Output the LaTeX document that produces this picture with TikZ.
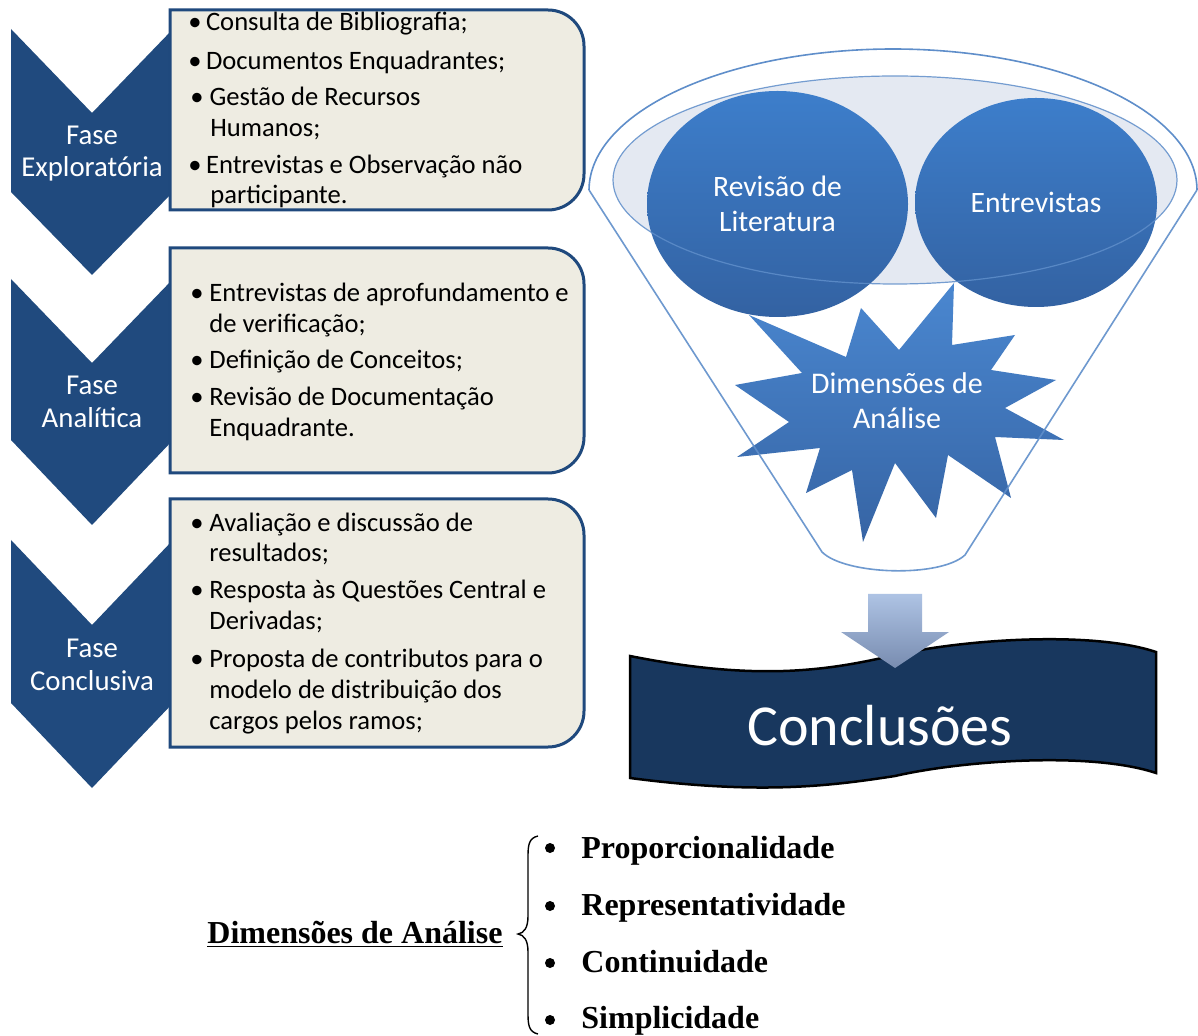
\documentclass[tikz,border=0pt]{standalone}
\usepackage{fontspec}
\setmainfont{Carlito}
\newfontfamily\timesfont{Liberation Serif}
\usetikzlibrary{shapes.geometric}
\definecolor{chev}{RGB}{32,74,126}
\definecolor{boxfill}{RGB}{238,236,226}
\definecolor{boxline}{RGB}{31,73,125}
\definecolor{circtop}{RGB}{61,126,203}
\definecolor{circbot}{RGB}{51,98,162}
\definecolor{startop}{RGB}{74,135,208}
\definecolor{starbot}{RGB}{54,100,164}
\definecolor{funnel}{RGB}{95,142,202}
\definecolor{innerfill}{RGB}{228,233,242}
\definecolor{arrtop}{RGB}{174,195,228}
\definecolor{arrbot}{RGB}{120,140,176}
\definecolor{banner}{RGB}{24,55,94}
\begin{document}
\begin{tikzpicture}[x=0.5pt,y=-0.5pt,
  chevron/.style={fill=chev},
  phasebox/.style={fill=boxfill, draw=boxline, line width=1.5pt},
  ln/.style={anchor=base west, inner sep=0pt, font=\fontsize{13.3}{15}\selectfont, text=black},
  chevlbl/.style={anchor=base, inner sep=0pt, text=white, font=\fontsize{14.4}{16}\selectfont},
  bubble/.style={ellipse, inner sep=0pt, top color=circtop, bottom color=circbot, text=white, align=center, font=\fontsize{14.8}{17.5}\selectfont},
  funnelline/.style={draw=funnel, line width=0.8pt},
  dim/.style={anchor=base west, inner sep=0pt, font=\timesfont\bfseries\fontsize{16}{19}\selectfont},
  dimbul/.style={circle, fill=black, inner sep=0pt, minimum size=5pt}]
\useasboundingbox (0,0) rectangle (1198,1036);
\fill[white] (0,0) rectangle (1198,1036);

% chevrons
\fill[chevron] (11,29) -- (92,113) -- (173,29) -- (173,192) -- (92,275) -- (11,192) -- cycle;
\fill[chevron] (11,279) -- (92,363) -- (173,279) -- (173,440) -- (92,525) -- (11,440) -- cycle;
\fill[chevron] (11,540) -- (92,625) -- (173,540) -- (173,703) -- (92,788) -- (11,703) -- cycle;
\node[chevlbl] (c1a) at (92,145) {Fase};
\node[chevlbl] (c1b) at (92,177) {Exploratória};
\node[chevlbl] (c2a) at (92,395) {Fase};
\node[chevlbl] (c2b) at (92,428) {Analítica};
\node[chevlbl] (c3a) at (92,657) {Fase};
\node[chevlbl] (c3b) at (92,690) {Conclusiva};

% boxes
\draw[phasebox] (170,10) -- (548,10) .. controls (567.9,10) and (584,26.1) .. (584,46) -- (584,174) .. controls (584,193.9) and (567.9,210) .. (548,210) -- (170,210) -- cycle;
\draw[phasebox] (170,248) -- (548,248) .. controls (567.9,248) and (584,264.1) .. (584,284) -- (584,437) .. controls (584,456.9) and (567.9,473) .. (548,473) -- (170,473) -- cycle;
\draw[phasebox] (170,499) -- (548,499) .. controls (567.9,499) and (584,515.1) .. (584,535) -- (584,711) .. controls (584,730.9) and (567.9,747) .. (548,747) -- (170,747) -- cycle;

% box 1 text
\node[ln] (t11) at (188,31) {\textbullet\,Consulta de Bibliografia;};
\node[ln] (t12) at (188,70) {\textbullet\,Documentos Enquadrantes;};
\node[ln] (t13) at (190,106) {\textbullet\ Gestão de Recursos};
\node[ln] (t14) at (210,137) {Humanos;};
\node[ln] (t15) at (188,174) {\textbullet\,Entrevistas e Observação não};
\node[ln] (t16) at (210,204) {participante.};

% box 2 text
\node[ln] (b21) at (190,302) {\textbullet};
\node[ln] (t21) at (209,302) {Entrevistas de aprofundamento e};
\node[ln] (t22) at (209,333) {de verificação;};
\node[ln] (b23) at (190,369) {\textbullet};
\node[ln] (t23) at (209,369) {Definição de Conceitos;};
\node[ln] (b24) at (190,406) {\textbullet};
\node[ln] (t24) at (209,406) {Revisão de Documentação};
\node[ln] (t25) at (209,437) {Enquadrante.};

% box 3 text
\node[ln] (b31) at (190,532) {\textbullet};
\node[ln] (t31) at (209,532) {Avaliação e discussão de};
\node[ln] (t32) at (209,562) {resultados;};
\node[ln] (b33) at (190,599) {\textbullet};
\node[ln] (t33) at (209,599) {Resposta às Questões Central e};
\node[ln] (t34) at (209,630) {Derivadas;};
\node[ln] (b35) at (190,667) {\textbullet};
\node[ln] (t35) at (209,667) {Proposta de contributos para o};
\node[ln] (t36) at (209,698) {modelo de distribuição dos};
\node[ln] (t37) at (209,729) {cargos pelos ramos;};

% funnel
\draw[funnelline] plot[domain=180:360, samples=80, smooth] ({893+304*cos(\x)}, {190+141*sin(\x)});
\fill[innerfill] (895,180) ellipse [x radius=282, y radius=104];
\node[bubble, minimum width=130.5pt, minimum height=113pt] (lit) at (777.5,204) {Revisão de\\Literatura};
\node[bubble, minimum width=121pt, minimum height=104.5pt] (ent) at (1036,202.5) {Entrevistas};
\draw[draw=funnel, line width=0.6pt, draw opacity=0.85] (895,180) ellipse [x radius=282, y radius=104];

% star
\shade[top color=startop, bottom color=starbot] (749,315) -- (846,357) -- (861,308) -- (899,350) -- (954,283) -- (952,345) -- (1015,335) -- (991,370) -- (1056,380) -- (1005,408) -- (1064,440) -- (995,437) -- (1011,498) -- (948,455) -- (936,518) -- (895,463) -- (863,542) -- (852,470) -- (806,493) -- (820,448) -- (737,457) -- (789,422) -- (735,385) -- (802,373) -- cycle;
\node[inner sep=0pt, text=white, align=center, font=\fontsize{15}{17.5}\selectfont] (dim) at (897,401) {Dimensões de\\Análise};
\draw[funnelline, draw opacity=0.9] (589,190) -- (822,552) .. controls (845,575) and (940,578) .. (965,555) -- (1197,190);

% banner
\draw[fill=banner, draw=black, line width=1.25pt] (630,656) .. controls (760,682) and (830,670) .. (895,655) .. controls (960,640) and (1090,630) .. (1156,652) -- (1156,773) .. controls (1090,751) and (960,761) .. (895,776) .. controls (830,786) and (760,795) .. (630,778) -- cycle;
\node[anchor=base, inner sep=0pt, text=white, font=\fontsize{29}{34}\selectfont] (concl) at (880,745) {Conclusões};

% arrow
\shade[top color=arrtop, bottom color=arrbot] (868,594) -- (922,594) -- (922,632) -- (949,632) -- (895,668) -- (841,632) -- (868,632) -- cycle;

% bottom list
\node[dim] (dtitle) at (207,943) {\underline{Dimensões de Análise}};
\draw[line width=0.7pt] (538,836) .. controls (529,838) and (528,845) .. (528,856) -- (528,916) .. controls (528,928) and (524,933) .. (518,934) .. controls (524,935) and (528,940) .. (528,952) -- (528,1014) .. controls (528,1025) and (529,1032) .. (538,1034);
\node[dimbul] (p1) at (550,848) {};
\node[dim] (d1) at (581,858) {Proporcionalidade};
\node[dimbul] (p2) at (550,906) {};
\node[dim] (d2) at (581,915) {Representatividade};
\node[dimbul] (p3) at (550,963) {};
\node[dim] (d3) at (581,972) {Continuidade};
\node[dimbul] (p4) at (550,1020) {};
\node[dim] (d4) at (581,1028) {Simplicidade};
\end{tikzpicture}
\end{document}
